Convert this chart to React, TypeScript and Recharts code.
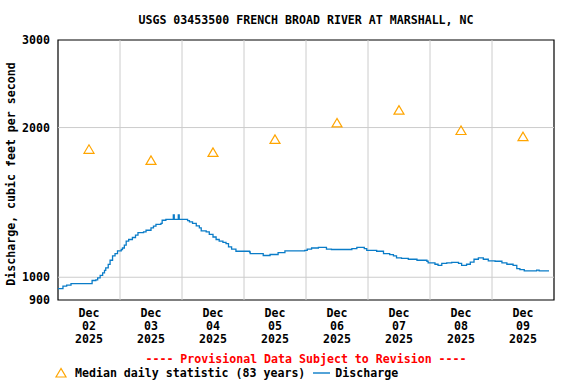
import { ComposedChart, Line, Scatter, XAxis, YAxis, ReferenceLine, ReferenceArea } from "recharts"

const FONT = "'DejaVu Sans Mono', 'Liberation Mono', monospace"
const BLUE = "#0a7cc8"
const ORANGE = "#ffa500"
const GRID = "#cccccc"

// days since Dec 02 2025 00:00 and instantaneous discharge (cfs)
const flowDays = [
  0, 0.08, 0.14, 0.21, 0.55, 0.61, 0.64, 0.68, 0.72, 0.75, 0.77, 0.81, 0.84, 0.88, 0.92, 0.96,
  1.02, 1.04, 1.07, 1.1, 1.14, 1.2, 1.25, 1.29, 1.38, 1.42, 1.5, 1.54, 1.58, 1.66, 1.68, 1.74,
  1.86, 1.875, 1.94, 1.955, 2.09, 2.12, 2.17, 2.23, 2.28, 2.31, 2.39, 2.44, 2.5, 2.55, 2.6,
  2.66, 2.71, 2.75, 2.8, 2.87, 3.09, 3.1, 3.31, 3.42, 3.55, 3.66, 3.98, 4.02, 4.09, 4.2,
  4.33, 4.41, 4.74, 4.82, 4.94, 4.98, 5.14, 5.25, 5.35, 5.41, 5.46, 5.54, 5.65, 5.79, 5.95,
  5.97, 6.08, 6.13, 6.19, 6.27, 6.35, 6.46, 6.51, 6.59, 6.65, 6.71, 6.78, 6.86, 6.94, 7.05,
  7.16, 7.24, 7.34, 7.4, 7.45, 7.52, 7.69, 7.72, 7.76, 7.92,
]
const flowCfs = [
  949, 960, 964, 971, 985, 988, 997, 1009, 1020, 1032, 1044, 1061, 1082, 1104, 1116, 1130,
  1137, 1145, 1160, 1182, 1191, 1202, 1215, 1230, 1234, 1243, 1257, 1267, 1277, 1283, 1302, 1307,
  1335, 1307, 1335, 1307, 1300, 1292, 1283, 1268, 1257, 1239, 1234, 1220, 1205, 1191, 1182,
  1175, 1169, 1151, 1139, 1128, 1124, 1116, 1106, 1111, 1121, 1130, 1133, 1139, 1145, 1148,
  1139, 1137, 1142, 1148, 1142, 1133, 1128, 1116, 1110, 1104, 1094, 1091, 1087, 1082, 1077,
  1069, 1062, 1057, 1066, 1069, 1071, 1066, 1057, 1062, 1073, 1087, 1094, 1087, 1079, 1077,
  1069, 1062, 1057, 1041, 1036, 1030, 1030, 1034, 1030, 1030,
]

// median daily statistic, plotted at noon of each day
const medianDays = [0.5, 1.5, 2.5, 3.5, 4.5, 5.5, 6.5, 7.5]
const medianCfs = [1810, 1720, 1785, 1895, 2045, 2170, 1975, 1920]
const dayLabels = ["02", "03", "04", "05", "06", "07", "08", "09"]

const yTicks = [900, 1000, 2000, 3000]
const midnights = [1, 2, 3, 4, 5, 6, 7]
const flowGrid = [1000, 2000]

const flowData = flowDays.map((d, i) => ({ day: d, cfs: flowCfs[i] }))
const medianData = medianDays.map((d, i) => ({ day: d, median: medianCfs[i] }))

const text = { fontFamily: FONT, fontWeight: "bold" as const, fontSize: 11.6 }

function Triangle(props: any) {
  const { cx, cy } = props
  if (cx == null || cy == null) return null
  return (
    <polygon
      points={`${cx},${cy - 4.3} ${cx - 5},${cy + 4.2} ${cx + 5},${cy + 4.2}`}
      fill="none"
      stroke={ORANGE}
      strokeWidth={1.2}
    />
  )
}

function DateTick(props: any) {
  const { x, y, payload } = props
  const i = medianDays.indexOf(payload.value)
  return (
    <text x={x} y={y} textAnchor="middle" fill="#000" style={text}>
      <tspan x={x} dy={9}>Dec</tspan>
      <tspan x={x} dy={13}>{dayLabels[i]}</tspan>
      <tspan x={x} dy={13}>2025</tspan>
    </text>
  )
}

export default function App() {
  return (
    <div style={{ position: "absolute", left: 0, top: 0, width: 576, height: 384, background: "#fff" }}>
      <div style={{ ...text, position: "absolute", top: 13, left: 0, width: 612, textAlign: "center" }}>
        USGS 03453500 FRENCH BROAD RIVER AT MARSHALL, NC
      </div>
      <div
        style={{
          ...text,
          position: "absolute",
          left: 11,
          top: 174,
          whiteSpace: "nowrap",
          transform: "translate(-50%, -50%) rotate(-90deg)",
        }}
      >
        Discharge, cubic feet per second
      </div>
      <ComposedChart width={576} height={384} margin={{ top: 40, right: 22, left: 0, bottom: 34 }}>
        <XAxis
          type="number"
          dataKey="day"
          domain={[0, 8]}
          ticks={medianDays}
          tick={<DateTick />}
          tickLine={false}
          axisLine={false}
          height={50}
          allowDataOverflow
        />
        <YAxis
          type="number"
          scale="log"
          domain={[900, 3000]}
          ticks={yTicks}
          allowDataOverflow
          tickLine={false}
          axisLine={false}
          width={58}
          tick={{ fill: "#000", ...text }}
        />
        {midnights.map((d) => (
          <ReferenceLine key={"v" + d} x={d} stroke={GRID} strokeWidth={1} />
        ))}
        {flowGrid.map((v) => (
          <ReferenceLine key={"h" + v} y={v} stroke={GRID} strokeWidth={1} />
        ))}
        <Scatter data={medianData} dataKey="median" shape={<Triangle />} isAnimationActive={false} />
        <Line
          data={flowData}
          dataKey="cfs"
          type="stepAfter"
          stroke={BLUE}
          strokeWidth={1.3}
          dot={false}
          activeDot={false}
          isAnimationActive={false}
        />
        <ReferenceArea x1={0} x2={8} y1={900} y2={3000} fill="none" stroke="#000" strokeWidth={1.2} />
      </ComposedChart>
      <div style={{ ...text, position: "absolute", top: 352, left: 0, width: 612, textAlign: "center", color: "#ff0000" }}>
        ---- Provisional Data Subject to Revision ----
      </div>
      <div style={{ ...text, position: "absolute", top: 366, left: 54, whiteSpace: "pre", display: "flex", alignItems: "center" }}>
        <svg width={14} height={12} style={{ marginRight: 7 }}>
          <polygon points="7,1.5 2,10 12,10" fill="none" stroke={ORANGE} strokeWidth={1.2} />
        </svg>
        <span>Median daily statistic (83 years) </span>
        <svg width={20} height={12} style={{ marginRight: 3 }}>
          <line x1={1} y1={6} x2={18} y2={6} stroke={BLUE} strokeWidth={1.4} />
        </svg>
        <span>Discharge</span>
      </div>
    </div>
  )
}
